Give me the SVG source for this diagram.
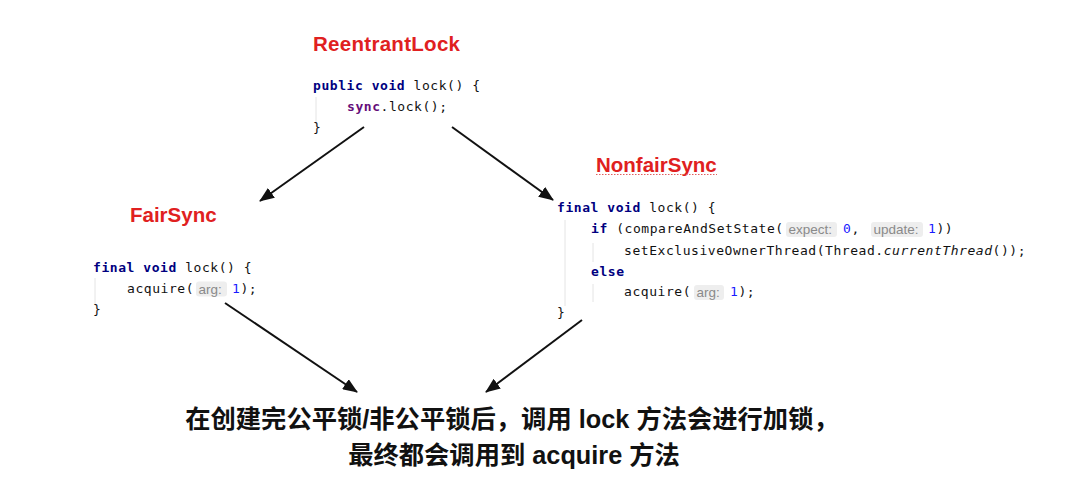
<svg xmlns="http://www.w3.org/2000/svg" width="1089" height="485" viewBox="0 0 1089 485">
<style>
.title{font-family:"Liberation Sans",Arial,sans-serif;font-weight:bold;font-size:20.5px;fill:#e02020}
.code{font-family:"DejaVu Sans Mono","Liberation Mono",monospace;font-size:13px;letter-spacing:0.55px;fill:#111}
.kw{fill:#000080;font-weight:bold}
.fld{fill:#660e7a;font-weight:bold}
.num{fill:#1a1aff}
.hint{font-family:"Liberation Sans",Arial,sans-serif;font-size:13.5px;fill:#8a8a8a;letter-spacing:0}
.hintbg{fill:#eeeeee}
.guide{stroke:#e4e4e4;stroke-width:1}
.arrow{stroke:#111;stroke-width:2;fill:none;marker-end:url(#ah)}
.note{font-family:"Liberation Sans","Noto Sans CJK SC",sans-serif;font-weight:bold;font-size:25.3px;fill:#111;text-anchor:middle}
</style>
<defs>
<marker id="ah" markerUnits="userSpaceOnUse" markerWidth="15" markerHeight="12" refX="14" refY="6" orient="auto">
<path d="M0,0 L15,6 L0,12 z" fill="#111"/>
</marker>
</defs>
<rect width="1089" height="485" fill="#ffffff"/>

<g id="reentrantlock">
<text class="title" x="313" y="51" textLength="147" lengthAdjust="spacing">ReentrantLock</text>
<line class="guide" x1="316" y1="97" x2="316" y2="124"/>
<text class="code" x="313" y="90"><tspan class="kw">public void</tspan> lock() {</text>
<text class="code" x="347" y="111"><tspan class="fld">sync</tspan>.lock();</text>
<text class="code" x="313" y="132">}</text>
</g>

<g id="fairsync">
<text class="title" x="130" y="222">FairSync</text>
<line class="guide" x1="95" y1="278" x2="95" y2="305"/>
<text class="code" x="93" y="272"><tspan class="kw">final void</tspan> lock() {</text>
<text class="code" x="127" y="293">acquire(</text>
<rect class="hintbg" x="196" y="281.5" width="31" height="15" rx="3"/>
<text class="hint" x="198.5" y="293.5">arg:</text>
<text class="code" x="232" y="293"><tspan class="num">1</tspan>);</text>
<text class="code" x="93" y="314">}</text>
</g>

<g id="nonfairsync">
<text class="title" x="596" y="172">NonfairSync</text>
<line x1="596" y1="174.5" x2="717" y2="174.5" stroke="#e06060" stroke-width="1" stroke-dasharray="1.5,1.5"/>
<line class="guide" x1="565" y1="220" x2="565" y2="306"/>
<line class="guide" x1="593" y1="243" x2="593" y2="262"/>
<line class="guide" x1="593" y1="284" x2="593" y2="302"/>
<text class="code" x="557" y="212"><tspan class="kw">final void</tspan> lock() {</text>
<text class="code" x="591" y="233"><tspan class="kw">if</tspan> (compareAndSetState(</text>
<rect class="hintbg" x="786" y="222" width="51" height="15" rx="3"/>
<text class="hint" x="788.5" y="234">expect:</text>
<text class="code" x="843" y="233"><tspan class="num">0</tspan>,</text>
<rect class="hintbg" x="871" y="222" width="52" height="15" rx="3"/>
<text class="hint" x="873.5" y="234">update:</text>
<text class="code" x="928" y="233"><tspan class="num">1</tspan>))</text>
<text class="code" x="624" y="255">setExclusiveOwnerThread(Thread.<tspan font-style="italic">currentThread</tspan>());</text>
<text class="code" x="591" y="276"><tspan class="kw">else</tspan></text>
<text class="code" x="624" y="296">acquire(</text>
<rect class="hintbg" x="694" y="285" width="30" height="15" rx="3"/>
<text class="hint" x="696.5" y="297">arg:</text>
<text class="code" x="730" y="296"><tspan class="num">1</tspan>);</text>
<text class="code" x="557" y="317">}</text>
</g>

<g id="note">
<text class="note" x="512" y="428">在创建完公平锁/非公平锁后，调用 lock 方法会进行加锁，</text>
<text class="note" x="514" y="464">最终都会调用到 acquire 方法</text>
</g>

<g id="connectors">
<line class="arrow" x1="364" y1="127" x2="260" y2="201"/>
<line class="arrow" x1="452" y1="127" x2="553" y2="200"/>
<line class="arrow" x1="225" y1="303" x2="357" y2="392"/>
<line class="arrow" x1="582" y1="320" x2="486" y2="392"/>
</g>
</svg>
